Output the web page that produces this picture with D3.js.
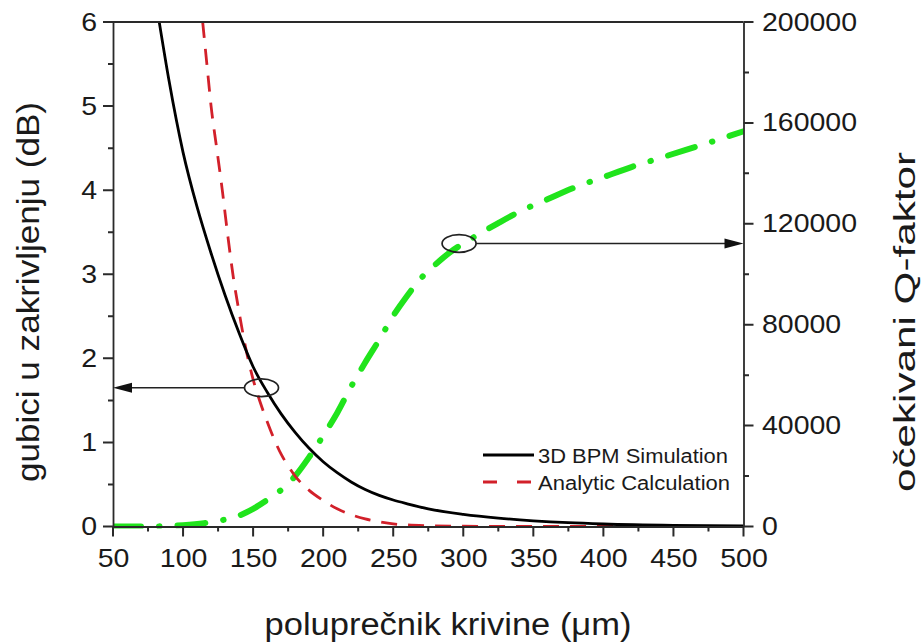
<!DOCTYPE html>
<html><head><meta charset="utf-8">
<script src="https://cdn.jsdelivr.net/npm/d3@7"></script>
<style>
body{margin:0;background:#fff}
svg{display:block}
text{font-family:"Liberation Sans",Arial,sans-serif;fill:#1a1a1a}
</style>
</head><body><svg id="c" width="922" height="644"></svg>
<script>
// ---- data ----
const bpmRadius = [83, 90, 100, 110, 120, 130, 140, 150, 160, 170, 180, 190, 200, 210, 220, 230, 240, 250, 260, 275, 300, 325, 350, 375, 400, 450, 500];
const bpmLoss   = [6.0, 5.3, 4.45, 3.8, 3.25, 2.75, 2.3, 1.9, 1.6, 1.34, 1.12, 0.93, 0.77, 0.64, 0.53, 0.44, 0.37, 0.315, 0.27, 0.21, 0.145, 0.1, 0.068, 0.045, 0.03, 0.013, 0.006];

const analyticRadius = [114, 117, 120, 124, 128, 132, 136, 140, 145, 150, 155, 160, 165, 170, 175, 180, 190, 200, 210, 220, 230, 240, 250, 275, 300, 350, 400, 450, 500];
const analyticLoss   = [6.0, 5.5, 5.0, 4.5, 4.0, 3.45, 2.95, 2.55, 2.1, 1.75, 1.48, 1.25, 1.04, 0.86, 0.72, 0.6, 0.43, 0.31, 0.21, 0.14, 0.09, 0.055, 0.03, 0.01, 0.004, 0, 0, 0, 0];

const qRadius = [50, 75, 100, 115, 125, 138, 150, 160, 170, 180, 190, 200, 210, 220, 230, 240, 250, 260, 270, 280, 290, 300, 310, 325, 340, 360, 380, 400, 420, 440, 460, 480, 500];
const qFactor = [0, 0, 500, 1300, 2200, 3900, 7000, 10500, 14500, 20000, 27500, 36000, 45000, 55500, 65000, 74000, 83500, 91500, 98500, 103800, 108500, 112200, 115500, 120300, 124800, 129700, 134500, 138500, 142500, 146000, 149500, 153000, 156700];

const xTickValues = [50, 100, 150, 200, 250, 300, 350, 400, 450, 500];
const lossTickValues = [0, 1, 2, 3, 4, 5, 6];
const qTickValues = [0, 40000, 80000, 120000, 160000, 200000];

const legendLabels = ["3D BPM Simulation", "Analytic Calculation"];
const xTitle = "polupre\u010dnik krivine (\u03bcm)";
const leftTitle = "gubici u zakrivljenju (dB)";
const rightTitle = "o\u010dekivani Q-faktor";

// annotations: ellipse on a curve, arrow to the axis it belongs to
const annotRadius = [156, 297];
const annotValue  = [1.65, 112200];
const annotSide   = ["left", "right"];

// ---- layout ----
const L = 113, R = 743.5, T = 22, B = 526.5;
const svg = d3.select("#c");
const x = d3.scaleLinear([50, 500], [L, R]);
const yL = d3.scaleLinear([0, 6], [B, T]);
const yR = d3.scaleLinear([0, 200000], [B, T]);
const axisColor = "#2a2a2a";
const tickFont = 25, tickStretch = 1.14;

svg.append("defs").append("clipPath").attr("id", "plot")
  .append("rect").attr("x", L).attr("y", T).attr("width", R - L).attr("height", B - T + 2);

// ---- curves ----
const plot = svg.append("g").attr("clip-path", "url(#plot)");
const lineL = d3.line().x(d => x(d[0])).y(d => yL(d[1])).curve(d3.curveMonotoneX);
const lineR = d3.line().x(d => x(d[0])).y(d => yR(d[1])).curve(d3.curveMonotoneX);

plot.append("path").datum(d3.zip(qRadius, qFactor)).attr("d", lineR)
  .attr("fill", "none").attr("stroke", "#20e41c").attr("stroke-width", 6)
  .attr("stroke-linecap", "round").attr("stroke-dasharray", "28,18,0.5,18");

plot.append("path").datum(d3.zip(analyticRadius, analyticLoss)).attr("d", lineL)
  .attr("fill", "none").attr("stroke", "#d2202a").attr("stroke-width", 2.8)
  .attr("stroke-dasharray", "16,11");

plot.append("path").datum(d3.zip(bpmRadius, bpmLoss)).attr("d", lineL)
  .attr("fill", "none").attr("stroke", "#000").attr("stroke-width", 2.8);

// ---- axes (labels + domain lines from d3 axes) ----
function styleAxis(g) {
  g.attr("font-size", tickFont).attr("font-family", '"Liberation Sans",Arial,sans-serif');
  g.select(".domain").attr("stroke", axisColor).attr("stroke-width", 1.8);
  g.selectAll(".tick line").remove();
  g.selectAll(".tick text").attr("fill", "#1a1a1a");
}
const minorX = d3.range(75, 500, 50);
const minorL = d3.range(0.5, 6, 1);
const minorR = d3.range(20000, 200000, 40000);

const gx = svg.append("g").attr("transform", `translate(0,${B})`)
  .call(d3.axisBottom(x).tickValues(xTickValues).tickSizeInner(10).tickSizeOuter(0).tickPadding(3));
styleAxis(gx);
gx.selectAll(".tick text").attr("y", 22.5).attr("transform", `scale(${tickStretch},1)`);

const gl = svg.append("g").attr("transform", `translate(${L},0)`)
  .call(d3.axisLeft(yL).tickValues(lossTickValues).tickSizeInner(10).tickSizeOuter(0).tickFormat(d3.format("d")));
styleAxis(gl);
gl.selectAll(".tick text").attr("x", -16 / tickStretch).attr("transform", `scale(${tickStretch},1)`);

const gr = svg.append("g").attr("transform", `translate(${R},0)`)
  .call(d3.axisRight(yR).tickValues(qTickValues).tickSizeInner(10).tickSizeOuter(0).tickFormat(d3.format("d")));
styleAxis(gr);
gr.selectAll(".tick text").attr("x", 18.5 / tickStretch).attr("transform", `scale(${tickStretch},1)`);

// tick marks (major + minor) as one path, positioned through the scales
function tickPath(values, len, orient, scale) {
  return values.map(d => {
    const v = scale(d);
    if (orient === "bottom") return `M${v},${B}V${B + len}`;
    if (orient === "left") return `M${L},${v}H${L - len}`;
    return `M${R},${v}H${R + len}`;
  }).join("");
}
const tickD = [
  tickPath(xTickValues, 10, "bottom", x), tickPath(minorX, 5, "bottom", x),
  tickPath(lossTickValues, 10, "left", yL), tickPath(minorL, 5, "left", yL),
  tickPath(qTickValues, 10, "right", yR), tickPath(minorR, 5.5, "right", yR)
].join("");
svg.append("path").attr("d", tickD).attr("fill", "none")
  .attr("stroke", axisColor).attr("stroke-width", 2);

// top frame line
svg.append("line").attr("x1", L).attr("x2", R).attr("y1", T).attr("y2", T)
  .attr("stroke", axisColor).attr("stroke-width", 1.8);

// ---- annotations ----
annotRadius.forEach((r, i) => {
  const side = annotSide[i];
  const cx = x(r), cy = side === "left" ? yL(annotValue[i]) : yR(annotValue[i]);
  const rx = 17, ry = 8.8;
  svg.append("ellipse").attr("cx", cx).attr("cy", cy).attr("rx", rx).attr("ry", ry)
    .attr("fill", "none").attr("stroke", "#222").attr("stroke-width", 1.7);
  const x0 = side === "left" ? cx - rx : cx + rx;
  const x1 = side === "left" ? L : R;
  const dir = side === "left" ? 1 : -1;
  svg.append("line").attr("x1", x0).attr("x2", x1 + dir * 14).attr("y1", cy).attr("y2", cy)
    .attr("stroke", "#222").attr("stroke-width", 1.5);
  svg.append("polygon")
    .attr("points", `${x1},${cy} ${x1 + dir * 19},${cy - 5} ${x1 + dir * 19},${cy + 5}`)
    .attr("fill", "#111");
});

// ---- legend ----
const leg = svg.append("g");
leg.append("line").attr("x1", 483).attr("x2", 534).attr("y1", 455).attr("y2", 455)
  .attr("stroke", "#000").attr("stroke-width", 2.8);
leg.append("line").attr("x1", 483).attr("x2", 534).attr("y1", 482).attr("y2", 482)
  .attr("stroke", "#d2202a").attr("stroke-width", 3).attr("stroke-dasharray", "14,20");
leg.append("text").attr("x", 538).attr("y", 463).attr("font-size", 20)
  .attr("textLength", 190).attr("lengthAdjust", "spacingAndGlyphs").text(legendLabels[0]);
leg.append("text").attr("x", 538).attr("y", 490).attr("font-size", 20)
  .attr("textLength", 192).attr("lengthAdjust", "spacingAndGlyphs").text(legendLabels[1]);

// ---- titles ----
svg.append("text").attr("x", 448).attr("y", 635).attr("text-anchor", "middle")
  .attr("font-size", 31).attr("textLength", 367).attr("lengthAdjust", "spacingAndGlyphs")
  .text(xTitle);
svg.append("text").attr("transform", "translate(39,292) rotate(-90)").attr("text-anchor", "middle")
  .attr("font-size", 31).attr("textLength", 380).attr("lengthAdjust", "spacingAndGlyphs")
  .text(leftTitle);
svg.append("text").attr("transform", "translate(915,322) rotate(-90)").attr("text-anchor", "middle")
  .attr("font-size", 30).attr("textLength", 340).attr("lengthAdjust", "spacingAndGlyphs")
  .text(rightTitle);
</script>
</body></html>
